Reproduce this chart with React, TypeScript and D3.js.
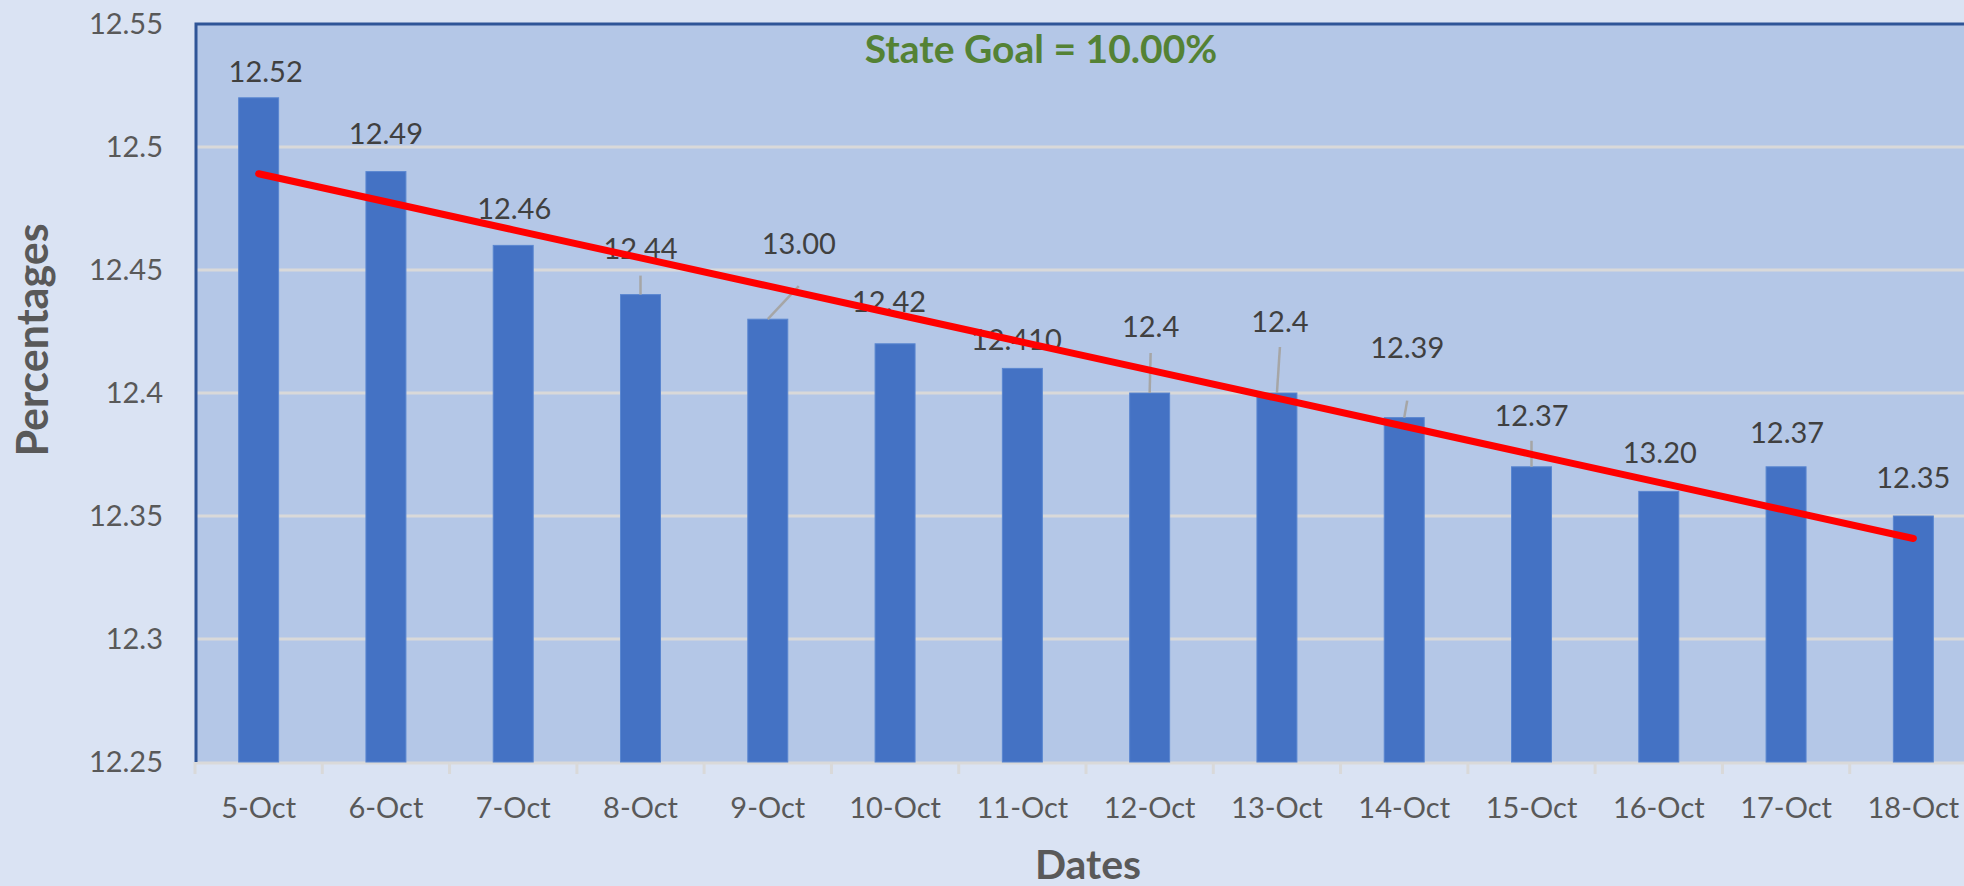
import { scaleBand, scaleLinear, line as d3Line, mean } from "d3";

const dates = [
  "5-Oct", "6-Oct", "7-Oct", "8-Oct", "9-Oct", "10-Oct", "11-Oct",
  "12-Oct", "13-Oct", "14-Oct", "15-Oct", "16-Oct", "17-Oct", "18-Oct",
];
const values = [
  12.52, 12.49, 12.46, 12.44, 12.43, 12.42, 12.41,
  12.4, 12.4, 12.39, 12.37, 12.36, 12.37, 12.35,
];
// the labels as typed in the source chart (some don't match the bars)
const labelTexts = [
  "12.52", "12.49", "12.46", "12.44", "13.00", "12.42", "12.410",
  "12.4", "12.4", "12.39", "12.37", "13.20", "12.37", "12.35",
];
const yTicks = [12.25, 12.3, 12.35, 12.4, 12.45, 12.5, 12.55];
const goalText = "State Goal = 10.00%";

// manual label placement: offset from bar top centre, leader = gap below baseline
const labelLayout = [
  { dx: 7, dy: -16 },
  { dx: 0, dy: -28 },
  { dx: 1, dy: -26 },
  { dx: 0, dy: -36, leader: 17 },
  { dx: 31, dy: -65, leader: 32 },
  { dx: -6, dy: -32 },
  { dx: -6, dy: -18 },
  { dx: 1, dy: -56, leader: 16 },
  { dx: 3, dy: -61, leader: 15 },
  { dx: 3, dy: -60, leader: 43 },
  { dx: 0, dy: -41, leader: 15 },
  { dx: 1, dy: -28 },
  { dx: 1, dy: -24 },
  { dx: 0, dy: -28 },
];

const W = 1964;
const H = 886;
const plot = { left: 195, top: 24, right: 1977, bottom: 762 };
const font = "Lato, 'Open Sans', sans-serif";

export default function App() {
  const x = scaleBand<string>().domain(dates).range([plot.left, plot.right]).padding(0);
  const y = scaleLinear().domain([12.25, 12.55]).range([plot.bottom, plot.top]);
  const barW = x.bandwidth() * 0.314;
  const cx = (d: string) => (x(d) ?? 0) + x.bandwidth() / 2;

  // linear trendline (least squares over the bars)
  const idx = values.map((_, i) => i + 1);
  const mx = mean(idx) ?? 0;
  const my = mean(values) ?? 0;
  const sxy = idx.reduce((s, xi, i) => s + (xi - mx) * (values[i] - my), 0);
  const sxx = idx.reduce((s, xi) => s + (xi - mx) ** 2, 0);
  const slope = sxy / sxx;
  const trend = dates.map((d, i) => ({ d, v: my + slope * (i + 1 - mx) }));
  const trendPath =
    d3Line<{ d: string; v: number }>()
      .x((p) => cx(p.d))
      .y((p) => y(p.v))(trend) ?? "";

  return (
    <div style={{ position: "absolute", left: 0, top: 0 }}>
      <svg width={W} height={H} style={{ display: "block" }} fontFamily={font}>
        <rect x={0} y={0} width={W} height={H} fill="#DAE3F3" />
        <rect
          x={plot.left}
          y={plot.top}
          width={plot.right - plot.left}
          height={plot.bottom - plot.top}
          fill="#B4C7E7"
        />

        {yTicks.slice(1, -1).map((t) => (
          <line
            key={`grid-${t}`}
            x1={plot.left}
            x2={plot.right}
            y1={y(t)}
            y2={y(t)}
            stroke="#D9D9D9"
            strokeWidth={3}
          />
        ))}

        {/* category axis */}
        <line x1={plot.left} x2={plot.right} y1={plot.bottom + 1} y2={plot.bottom + 1} stroke="#D9D9D9" strokeWidth={3} />
        {dates.map((d) => (
          <line
            key={`tick-${d}`}
            x1={x(d)}
            x2={x(d)}
            y1={plot.bottom}
            y2={plot.bottom + 12}
            stroke="#D9D9D9"
            strokeWidth={3}
          />
        ))}

        {/* plot border, left and top */}
        <path
          d={`M${plot.left + 1},${plot.bottom} V${plot.top} H${plot.right}`}
          fill="none"
          stroke="#2F5597"
          strokeWidth={3}
        />

        {dates.map((d, i) => (
          <rect
            key={`bar-${d}`}
            x={cx(d) - barW / 2}
            y={y(values[i])}
            width={barW}
            height={plot.bottom - y(values[i])}
            fill="#4472C4"
            stroke="#5A86D0"
            strokeWidth={1}
          />
        ))}

        {dates.map((d, i) => {
          const l = labelLayout[i];
          if (l.leader === undefined) return null;
          return (
            <line
              key={`leader-${d}`}
              x1={cx(d) + l.dx}
              y1={y(values[i]) + l.dy + l.leader}
              x2={cx(d)}
              y2={y(values[i])}
              stroke="#A6A6A6"
              strokeWidth={2.5}
            />
          );
        })}

        {dates.map((d, i) => (
          <text
            key={`label-${d}`}
            x={cx(d) + labelLayout[i].dx}
            y={y(values[i]) + labelLayout[i].dy}
            textAnchor="middle"
            fontSize={29}
            fill="#404040"
          >
            {labelTexts[i]}
          </text>
        ))}

        <path d={trendPath} fill="none" stroke="#FF0000" strokeWidth={7} strokeLinecap="round" />

        {yTicks.map((t) => (
          <text
            key={`ylab-${t}`}
            x={163}
            y={y(t)}
            dy="0.36em"
            textAnchor="end"
            fontSize={29}
            fill="#595959"
          >
            {String(t)}
          </text>
        ))}

        {dates.map((d) => (
          <text key={`xlab-${d}`} x={cx(d)} y={818} textAnchor="middle" fontSize={29} fill="#595959">
            {d}
          </text>
        ))}

        <text x={1041} y={63} textAnchor="middle" fontSize={39} fontWeight="bold" fill="#548235">
          {goalText}
        </text>

        <text
          transform="translate(48,340) rotate(-90)"
          textAnchor="middle"
          fontSize={43}
          fontWeight="bold"
          fill="#595959"
        >
          Percentages
        </text>
        <text x={1088} y={879} textAnchor="middle" fontSize={41} fontWeight="bold" fill="#595959">
          Dates
        </text>
      </svg>
    </div>
  );
}
